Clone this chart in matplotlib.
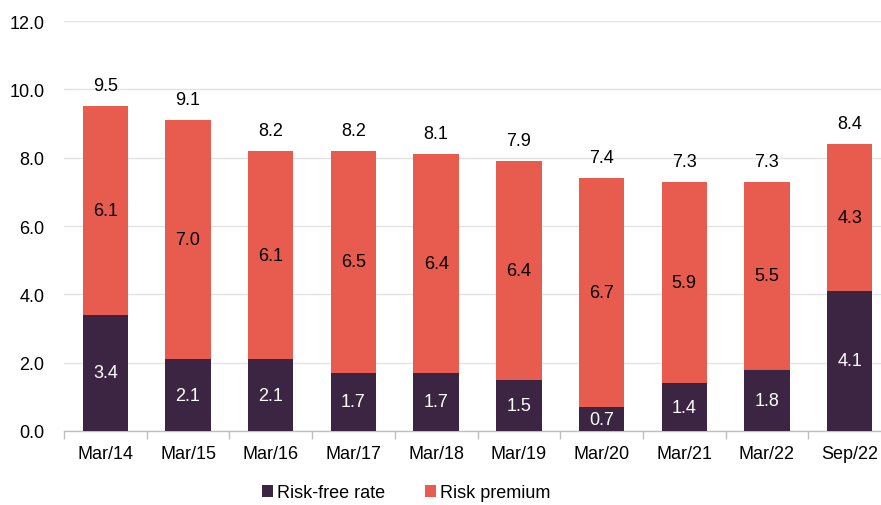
import matplotlib
matplotlib.use("Agg")
import matplotlib.pyplot as plt
import numpy as np

categories = ["Mar/14", "Mar/15", "Mar/16", "Mar/17", "Mar/18", "Mar/19", "Mar/20", "Mar/21", "Mar/22", "Sep/22"]
risk_free = [3.4, 2.1, 2.1, 1.7, 1.7, 1.5, 0.7, 1.4, 1.8, 4.1]
risk_premium = [6.1, 7.0, 6.1, 6.5, 6.4, 6.4, 6.7, 5.9, 5.5, 4.3]
totals = [9.5, 9.1, 8.2, 8.2, 8.1, 7.9, 7.4, 7.3, 7.3, 8.4]
yticks = [0, 2, 4, 6, 8, 10, 12]

plt.rcParams['font.family'] = ['Liberation Sans', 'DejaVu Sans']

c_rf = "#3b2542"
c_rp = "#e85c4f"
fs = 13

fig = plt.figure(figsize=(8.81, 5.06), dpi=100)
ax = fig.add_axes([64/881, 1 - 432/506, 827/881, 410/506])

x = np.arange(len(categories))
w = 0.55
ax.bar(x, risk_free, w, color=c_rf, label="Risk-free rate", zorder=3)
ax.bar(x, risk_premium, w, bottom=risk_free, color=c_rp, label="Risk premium", zorder=3)

for i in range(len(x)):
    ax.text(x[i], risk_free[i] / 2, f"{risk_free[i]:.1f}", ha="center", va="center",
            color="white", fontsize=fs, zorder=4)
    ax.text(x[i], risk_free[i] + risk_premium[i] / 2, f"{risk_premium[i]:.1f}", ha="center",
            va="center", color="black", fontsize=fs, zorder=4)
    ax.text(x[i], totals[i] + 0.35, f"{totals[i]:.1f}", ha="center", va="bottom",
            color="black", fontsize=fs, zorder=4)

ax.set_xlim(-0.5, len(x) - 0.5)
ax.set_ylim(0, 12)
ax.set_yticks(yticks)
ax.set_yticklabels([f"{v:.1f}" for v in yticks], fontsize=fs)
ax.yaxis.grid(True, color="#e3e3e3", linewidth=1, zorder=0)
ax.tick_params(axis="y", length=0, pad=14)

ax.set_xticks(x)
ax.set_xticklabels(categories, fontsize=fs)
ax.set_xticks(np.arange(len(x) + 1) - 0.5, minor=True)
ax.tick_params(axis="x", which="major", length=0, pad=10)
ax.tick_params(axis="x", which="minor", length=6, color="#bfbfbf", width=1)

for s in ["top", "right", "left"]:
    ax.spines[s].set_visible(False)
ax.spines["bottom"].set_color("#bfbfbf")
ax.spines["bottom"].set_linewidth(1)

ax.legend(loc="center", bbox_to_anchor=((406 - 64) / 827, -(494 - 432) / 410), ncol=2,
          frameon=False, fontsize=fs, handlelength=0.65, handleheight=0.65,
          handletextpad=0.2, columnspacing=2.2, borderpad=0)

fig.savefig("out.png", dpi=100)
